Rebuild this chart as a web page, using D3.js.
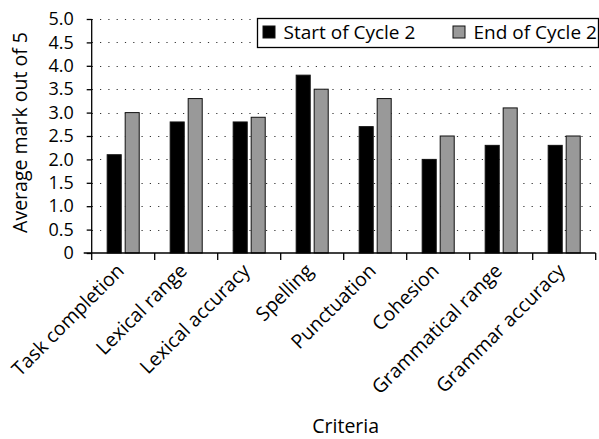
<!DOCTYPE html>
<html>
<head>
<meta charset="utf-8">
<script src="https://cdn.jsdelivr.net/npm/d3@7/dist/d3.min.js"></script>
<style>
  html, body { margin: 0; padding: 0; background: #fff; }
  svg { display: block; font-family: "Open Sans", sans-serif; }
</style>
</head>
<body>
<svg id="chart" width="599" height="439"></svg>
<script>
const categories = ["Task completion", "Lexical range", "Lexical accuracy", "Spelling",
  "Punctuation", "Cohesion", "Grammatical range", "Grammar accuracy"];
const seriesNames = ["Start of Cycle 2", "End of Cycle 2"];
const startValues = [2.1, 2.8, 2.8, 3.8, 2.7, 2.0, 2.3, 2.3];
const endValues = [3.0, 3.3, 2.9, 3.5, 3.3, 2.5, 3.1, 2.5];
const yTicks = [0, 0.5, 1.0, 1.5, 2.0, 2.5, 3.0, 3.5, 4.0, 4.5, 5.0];
const seriesColors = ["#000000", "#999999"];
const yTitle = "Average mark out of 5";
const xTitle = "Criteria";

const svg = d3.select("#chart");
const pLeft = 91.7, pRight = 595.7, pTop = 19, pBottom = 253;

const x = d3.scaleBand().domain(categories).range([pLeft, pRight]).padding(0);
const x1 = d3.scaleBand().domain(seriesNames).range([0, x.bandwidth()])
  .paddingInner(0.22).paddingOuter(0.86);
const y = d3.scaleLinear().domain([0, 5]).range([pBottom, pTop]);

// grid
svg.append("g").selectAll("line").data(yTicks.filter(d => d > 0)).join("line")
  .attr("x1", pLeft).attr("x2", pRight + 1)
  .attr("y1", d => Math.round(y(d)) + 0.5).attr("y2", d => Math.round(y(d)) + 0.5)
  .attr("stroke", "#333").attr("stroke-width", 1.2)
  .attr("stroke-dasharray", "1.2,7.1");

// bars
const data = categories.map((c, i) => ({c, vals: [startValues[i], endValues[i]]}));
const groups = svg.append("g").selectAll("g").data(data).join("g")
  .attr("transform", d => `translate(${x(d.c)},0)`);
groups.selectAll("rect").data(d => d.vals.map((v, k) => ({k, v}))).join("rect")
  .attr("x", d => x1(seriesNames[d.k]))
  .attr("width", x1.bandwidth())
  .attr("y", d => y(d.v))
  .attr("height", d => y(0) - y(d.v))
  .attr("fill", d => seriesColors[d.k])
  .attr("stroke", "#111").attr("stroke-width", 1);

// y axis
const yAxis = svg.append("g").attr("transform", `translate(${pLeft},0)`)
  .call(d3.axisLeft(y).tickValues(yTicks).tickSize(5).tickPadding(13)
    .tickFormat(d => d === 0 ? "0" : d3.format(".1f")(d)));
yAxis.select(".domain").attr("stroke", "#000").attr("stroke-width", 1.3)
  .attr("d", `M0,${pTop}V${pBottom}`);
yAxis.selectAll(".tick line").attr("stroke", "#000").attr("stroke-width", 1.3);
yAxis.selectAll(".tick text").attr("font-size", 18).attr("fill", "#000")
  .attr("font-family", "Open Sans, sans-serif");

// x axis
const xAxisG = svg.append("g").attr("transform", `translate(0,${pBottom})`);
xAxisG.append("line").attr("x1", pLeft - 8).attr("x2", pRight)
  .attr("y1", 0).attr("y2", 0).attr("stroke", "#000").attr("stroke-width", 1.3);
const tickPos = categories.map(c => x(c)).concat([x(categories[categories.length - 1]) + x.bandwidth()]);
xAxisG.selectAll("line.tk").data(tickPos).join("line").attr("class", "tk")
  .attr("x1", d => d).attr("x2", d => d).attr("y1", 0).attr("y2", 7)
  .attr("stroke", "#000").attr("stroke-width", 1.3);
svg.append("g").selectAll("text").data(categories).join("text")
  .attr("transform", d => `translate(${x(d) + x.bandwidth() / 2 + 2},${pBottom + 19}) rotate(-45)`)
  .attr("text-anchor", "end").attr("font-size", 19.5).attr("fill", "#000")
  .text(d => d);

// titles
svg.append("text").attr("transform", `translate(26.5,132.5) rotate(-90)`)
  .attr("text-anchor", "middle").attr("font-size", 19.5).attr("fill", "#000").text(yTitle);
svg.append("text").attr("x", (pLeft + pRight) / 2 + 2).attr("y", 433)
  .attr("text-anchor", "middle").attr("font-size", 19.5).attr("fill", "#000").text(xTitle);

// legend
const lg = svg.append("g");
lg.append("rect").attr("x", 257.5).attr("y", 18.5).attr("width", 341).attr("height", 29)
  .attr("fill", "#fff").attr("stroke", "#000").attr("stroke-width", 1.3);
const legendX = [263, 453];
seriesNames.forEach((s, i) => {
  lg.append("rect").attr("x", legendX[i]).attr("y", 26).attr("width", 12).attr("height", 12)
    .attr("fill", seriesColors[i]).attr("stroke", "#111").attr("stroke-width", 1);
  lg.append("text").attr("x", legendX[i] + 20.5).attr("y", 39.3)
    .attr("font-size", 19).attr("fill", "#000").text(s);
});
</script>
</body>
</html>
